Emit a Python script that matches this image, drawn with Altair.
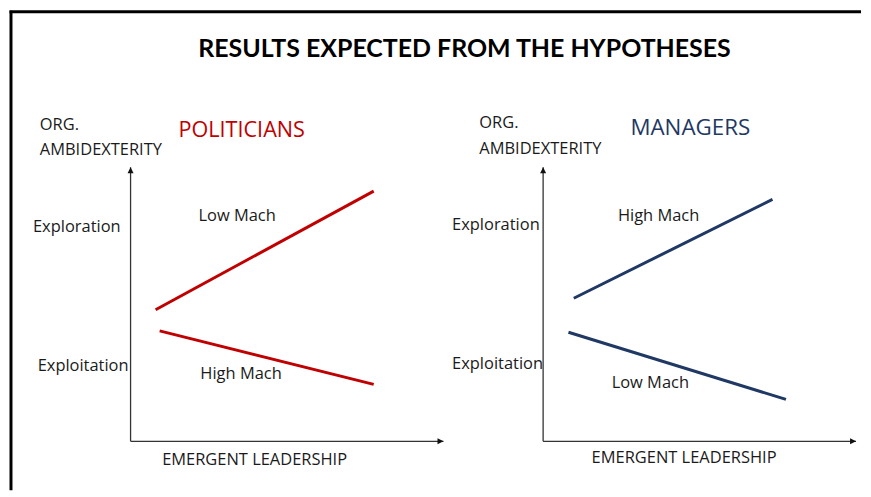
import altair as alt
import pandas as pd

# ---------------- data (x = emergent leadership, y = org. ambidexterity, 0-100) ----------------
main_title = "RESULTS EXPECTED FROM THE HYPOTHESES"

pol_name = "POLITICIANS"
pol_series = ["Low Mach", "Low Mach", "High Mach", "High Mach"]
pol_x = [8.0, 77.7, 9.3, 77.7]
pol_y = [48.0, 91.3, 40.3, 20.8]

mgr_name = "MANAGERS"
mgr_series = ["High Mach", "High Mach", "Low Mach", "Low Mach"]
mgr_x = [9.8, 73.3, 8.1, 77.6]
mgr_y = [52.2, 88.3, 39.8, 15.3]

# annotation texts and their anchor positions (data units)
label_text = ["ORG.", "AMBIDEXTERITY", "Exploration", "Exploitation", "EMERGENT LEADERSHIP"]
pol_label_x = [-29.0, -29.0, -31.2, -29.7, 10.1]
pol_label_y = [115.6, 106.2, 78.2, 27.4, -6.9]
mgr_label_x = [-20.4, -20.4, -29.1, -29.1, 15.5]
mgr_label_y = [116.2, 106.7, 78.8, 28.1, -6.1]

pol_mach_text = ["Low Mach", "High Mach"]
pol_mach_x = [21.7, 22.3]
pol_mach_y = [82.2, 24.4]
mgr_mach_text = ["High Mach", "Low Mach"]
mgr_mach_x = [23.9, 21.9]
mgr_mach_y = [82.4, 21.2]

pol_title_pos = (15.3, 113.5)
mgr_title_pos = (27.9, 114.5)
main_title_pos = (106.7, 143.3)

RED = "#C00000"
NAVY = "#1F3864"
TXT = "#1a1a1a"
FONT = "Open Sans"
TFONT = "Lato"

W, H = 314, 275
xs = alt.Scale(domain=[0, 100])
ys = alt.Scale(domain=[0, 100])


def panel(name, color, series, lx, ly, labx, laby, mtext, mx, my, tpos, tsize, extra=None):
    lines_df = pd.DataFrame({"series": series, "x": lx, "y": ly})
    lines = alt.Chart(lines_df).mark_line(color=color, strokeWidth=3).encode(
        x=alt.X("x:Q", scale=xs, axis=None),
        y=alt.Y("y:Q", scale=ys, axis=None),
        detail="series:N",
    )
    axes_df = pd.DataFrame({"x": [0, 0], "y": [0, 0], "x2": [100, 0], "y2": [0, 100]})
    axes = alt.Chart(axes_df).mark_rule(color="#333333", strokeWidth=1.3).encode(
        x=alt.X("x:Q", scale=xs, axis=None), y=alt.Y("y:Q", scale=ys, axis=None),
        x2="x2:Q", y2="y2:Q",
    )
    arr_r = alt.Chart(pd.DataFrame({"x": [100], "y": [0]})).mark_point(
        shape="M0,0L-1,-0.5L-1,0.5Z", filled=True, size=144, color="#111111", opacity=1
    ).encode(x=alt.X("x:Q", scale=xs, axis=None), y=alt.Y("y:Q", scale=ys, axis=None))
    arr_u = alt.Chart(pd.DataFrame({"x": [0], "y": [100]})).mark_point(
        shape="M0,0L-0.5,1L0.5,1Z", filled=True, size=144, color="#111111", opacity=1
    ).encode(x=alt.X("x:Q", scale=xs, axis=None), y=alt.Y("y:Q", scale=ys, axis=None))
    labels = alt.Chart(pd.DataFrame({"t": label_text, "x": labx, "y": laby})).mark_text(
        align="left", baseline="middle", font=FONT, fontSize=16.5, color=TXT
    ).encode(x=alt.X("x:Q", scale=xs, axis=None), y=alt.Y("y:Q", scale=ys, axis=None), text="t:N")
    mach = alt.Chart(pd.DataFrame({"t": mtext, "x": mx, "y": my})).mark_text(
        align="left", baseline="middle", font=FONT, fontSize=16.5, color=TXT
    ).encode(x=alt.X("x:Q", scale=xs, axis=None), y=alt.Y("y:Q", scale=ys, axis=None), text="t:N")
    ttl = alt.Chart(pd.DataFrame({"t": [name], "x": [tpos[0]], "y": [tpos[1]]})).mark_text(
        align="left", baseline="middle", font=FONT, fontSize=tsize, color=color
    ).encode(x=alt.X("x:Q", scale=xs, axis=None), y=alt.Y("y:Q", scale=ys, axis=None), text="t:N")
    layers = [axes, arr_r, arr_u, lines, labels, mach, ttl]
    if extra:
        layers = extra + layers
    return alt.layer(*layers).properties(width=W, height=H)


one = pd.DataFrame({"a": [0]})
frame_left = alt.Chart(one).mark_rule(color="#000000", strokeWidth=3).encode(
    x=alt.value(-120), y=alt.value(-157), y2=alt.value(324)
)
frame_top = alt.Chart(one).mark_rule(color="#000000", strokeWidth=3).encode(
    x=alt.value(-121.5), x2=alt.value(733), y=alt.value(-156)
)
big_title = alt.Chart(pd.DataFrame({"t": [main_title], "x": [main_title_pos[0]], "y": [main_title_pos[1]]})).mark_text(
    align="center", baseline="middle", font=TFONT, fontSize=25, fontWeight="bold", color="#000000"
).encode(x=alt.X("x:Q", scale=xs, axis=None), y=alt.Y("y:Q", scale=ys, axis=None), text="t:N")

left = panel(pol_name, RED, pol_series, pol_x, pol_y, pol_label_x, pol_label_y,
             pol_mach_text, pol_mach_x, pol_mach_y, pol_title_pos, 21.7,
             extra=[frame_left, frame_top, big_title])
right = panel(mgr_name, NAVY, mgr_series, mgr_x, mgr_y, mgr_label_x, mgr_label_y,
              mgr_mach_text, mgr_mach_x, mgr_mach_y, mgr_title_pos, 22.4)

chart = alt.hconcat(left, right, spacing=100, bounds="flush").properties(
    padding=0, background="white"
).configure_view(stroke=None)

chart.save("out.html", embed_options={"renderer": "svg", "actions": False})
